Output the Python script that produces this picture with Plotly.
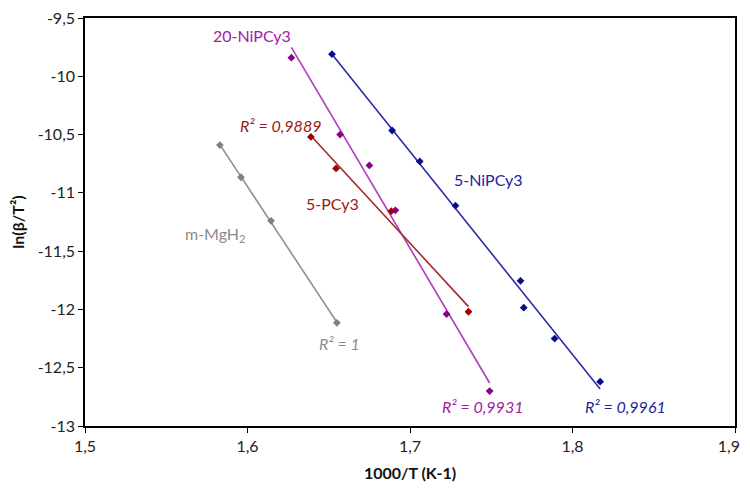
import numpy as np
import plotly.graph_objects as go

# Data
blue_x = [1.652, 1.689, 1.706, 1.728, 1.768, 1.770, 1.789, 1.817]
blue_y = [-9.81, -10.465, -10.73, -11.11, -11.755, -11.985, -12.25, -12.62]

purple_x = [1.627, 1.657, 1.675, 1.691, 1.7225, 1.749]
purple_y = [-9.84, -10.50, -10.765, -11.15, -12.04, -12.70]

red_x = [1.639, 1.6545, 1.6885, 1.736]
red_y = [-10.52, -10.79, -11.157, -12.02]

gray_x = [1.583, 1.596, 1.6145, 1.655]
gray_y = [-10.59, -10.866, -11.24, -12.115]

x_ticks = [1.5, 1.6, 1.7, 1.8, 1.9]
x_ticktext = ["1,5", "1,6", "1,7", "1,8", "1,9\u00a0\u00a0\u00a0"]
y_ticks = [-9.5, -10, -10.5, -11, -11.5, -12, -12.5, -13]
y_ticktext = ["-9,5", "-10", "-10,5", "-11", "-11,5", "-12", "-12,5", "-13"]

series = [
    (blue_x, blue_y, "#0A0A8C", "#2A2AAA"),
    (purple_x, purple_y, "#8B008B", "#B03AC0"),
    (red_x, red_y, "#A00000", "#A52A2A"),
    (gray_x, gray_y, "#808080", "#909090"),
]

FONT = "Lato, Open Sans, sans-serif"

fig = go.Figure()
for xs, ys, mcol, lcol in series:
    xs_a = np.array(xs)
    ys_a = np.array(ys)
    m, c = np.polyfit(xs_a, ys_a, 1)
    lx = np.array([xs_a.min(), xs_a.max()])
    fig.add_trace(go.Scatter(x=lx, y=m * lx + c, mode="lines",
                             line=dict(color=lcol, width=1.6),
                             showlegend=False, hoverinfo="skip"))
    fig.add_trace(go.Scatter(x=xs, y=ys, mode="markers",
                             marker=dict(symbol="diamond", size=6, color=mcol),
                             showlegend=False))

annots = [
    (1.603, -9.654, "20-NiPCy3", "#A020A0", False),
    (1.6206, -10.422, "R² = 0,9889", "#A01818", True),
    (1.748, -10.886, "5-NiPCy3", "#2323A0", False),
    (1.6524, -11.094, "5-PCy3", "#A01818", False),
    (1.580, -11.356, "m-MgH<sub>2</sub>", "#8C8C8C", False),
    (1.6565, -12.29, "R² = 1", "#8C8C8C", True),
    (1.7447, -12.83, "R² = 0,9931", "#A020A0", True),
    (1.8327, -12.836, "R² = 0,9961", "#2323A0", True),
]
for x, y, t, col, it in annots:
    fig.add_annotation(x=x, y=y, text=f"<i>{t}</i>" if it else t, showarrow=False,
                       font=dict(family=FONT, size=16, color=col),
                       xanchor="center", yanchor="middle")

axis_common = dict(showgrid=False, zeroline=False, showline=True, linecolor="black",
                   linewidth=1.5, mirror=True, ticks="outside", ticklen=5,
                   tickcolor="black", ticklabeloverflow="allow", automargin=False,
                   tickfont=dict(family=FONT, size=16, color="#222"))

fig.update_xaxes(range=[1.5, 1.9], tickvals=x_ticks, ticktext=x_ticktext,
                 title=dict(text="<b>1000/T (K-1)</b>", font=dict(family=FONT, size=16, color="#111"), standoff=14),
                 **axis_common)
fig.update_yaxes(range=[-13, -9.5], tickvals=y_ticks, ticktext=y_ticktext,
                 title=dict(text="<b>ln(β/T²)</b>", font=dict(family=FONT, size=16, color="#111"), standoff=12),
                 **axis_common)

fig.update_layout(width=742, height=476, margin=dict(l=77, r=15, t=10, b=58),
                  plot_bgcolor="white", paper_bgcolor="white")
fig.write_html("out.html")
